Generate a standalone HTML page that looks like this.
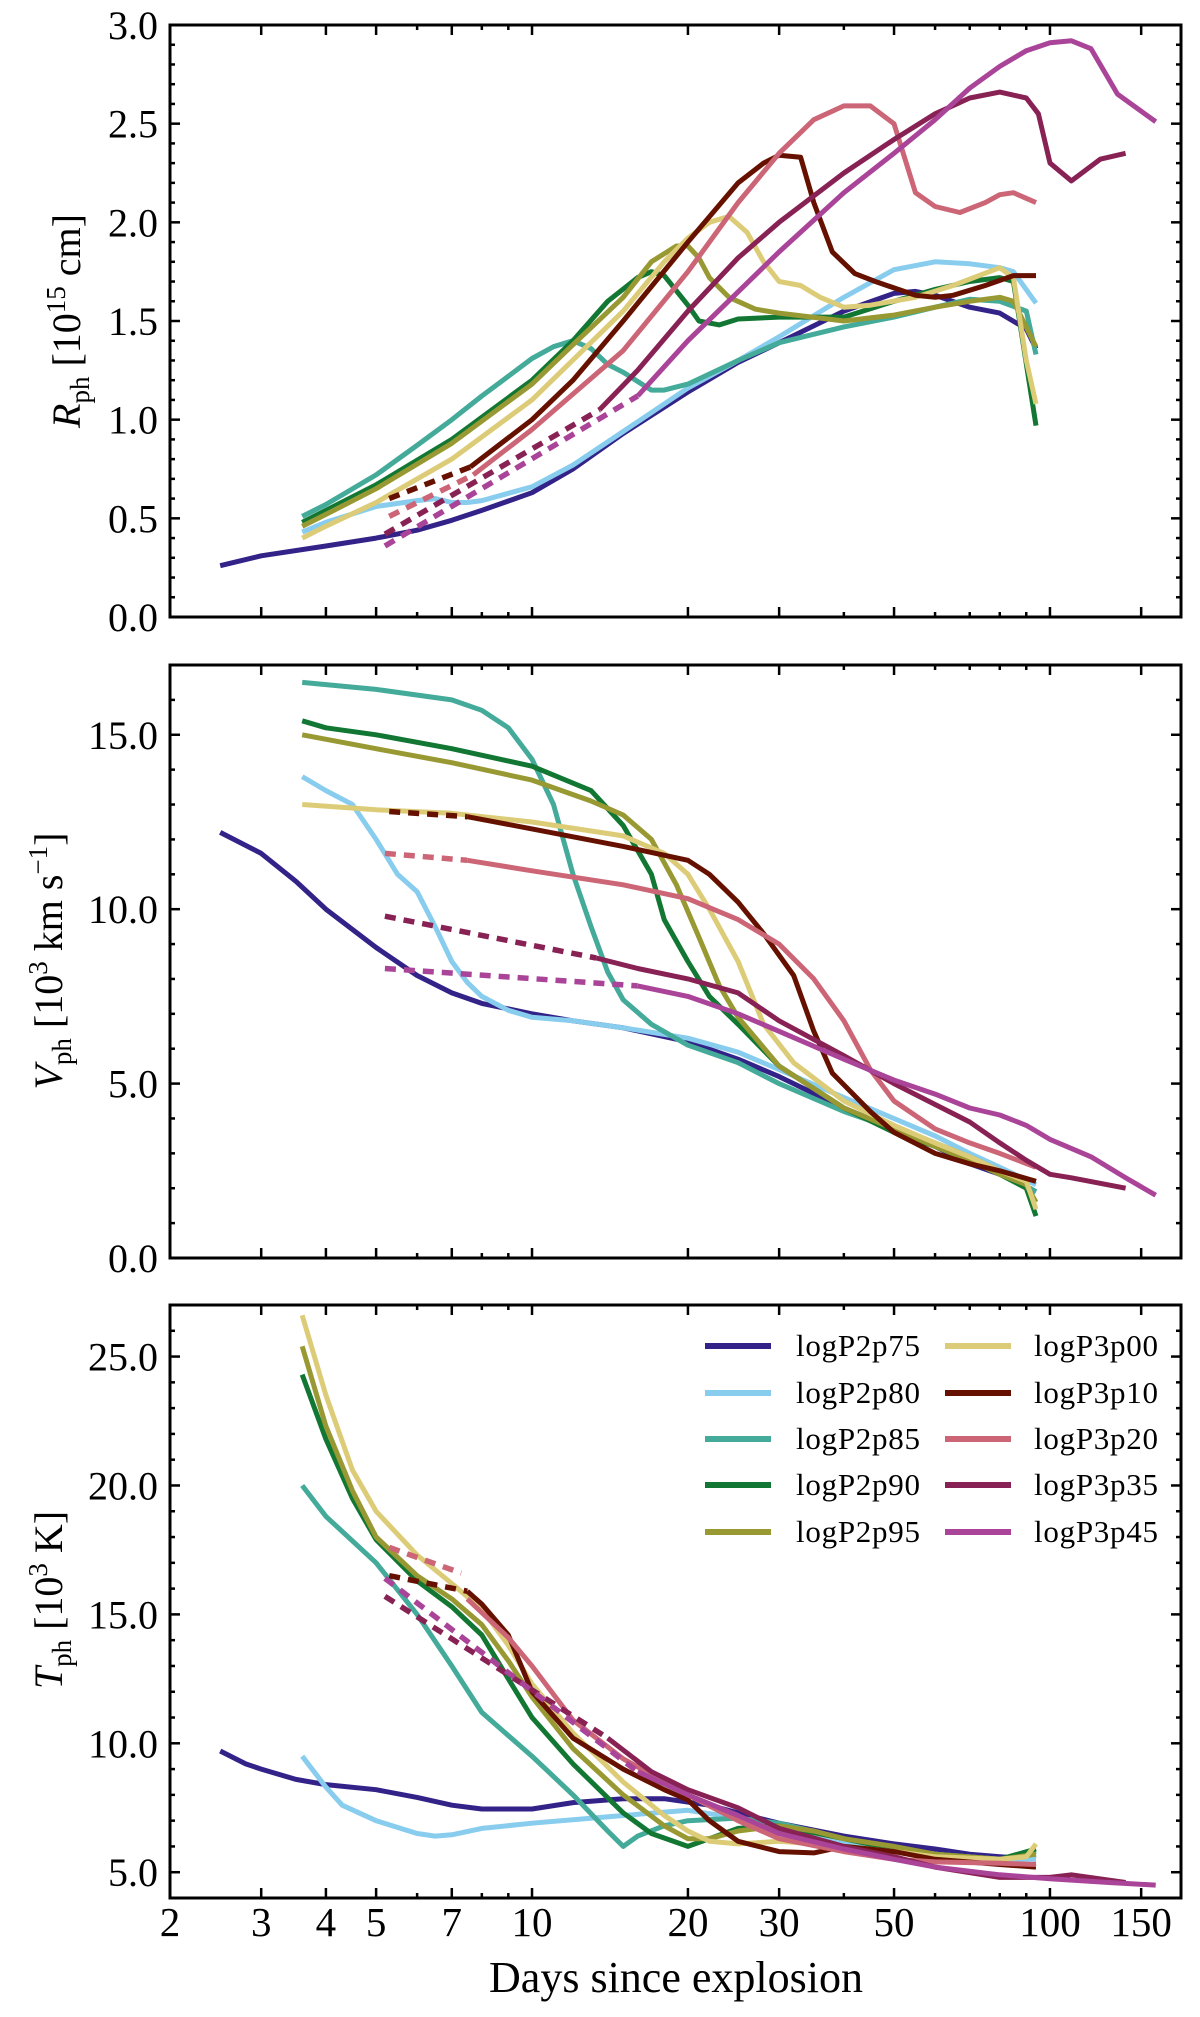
<!DOCTYPE html>
<html><head><meta charset="utf-8">
<style>
html,body{margin:0;padding:0;background:#fff;}
svg{display:block;}
text{font-family:"Liberation Serif",serif;fill:#000;}
</style></head>
<body>
<svg id="chart" xmlns="http://www.w3.org/2000/svg" width="1200" height="2017" viewBox="0 0 1200 2017"></svg>
<script>
// ---- data (days, value) ----
const seriesNames = ["logP2p75","logP2p80","logP2p85","logP2p90","logP2p95","logP3p00","logP3p10","logP3p20","logP3p35","logP3p45"];
const xTickValues = [2,3,4,5,7,10,20,30,50,100,150];
const xTickLabels = ["2","3","4","5","7","10","20","30","50","100","150"];
const rTickLabels = ["0.0","0.5","1.0","1.5","2.0","2.5","3.0"];
const vTickLabels = ["0.0","5.0","10.0","15.0"];
const tTickLabels = ["5.0","10.0","15.0","20.0","25.0"];

// Radius panel [1e15 cm]
const R_P2p75 = [[2.5,0.26],[3,0.31],[4,0.36],[5,0.40],[6,0.44],[7,0.49],[8,0.54],[10,0.63],[12,0.75],[15,0.93],[20,1.14],[25,1.29],[30,1.39],[40,1.55],[50,1.64],[55,1.65],[60,1.63],[70,1.57],[80,1.54],[90,1.46],[94,1.36]];
const R_P2p80 = [[3.6,0.43],[4,0.48],[5,0.56],[6,0.59],[6.5,0.60],[7,0.58],[7.5,0.58],[8,0.59],[10,0.66],[12,0.77],[15,0.94],[20,1.16],[25,1.30],[30,1.42],[40,1.62],[50,1.76],[60,1.80],[70,1.79],[80,1.77],[85,1.75],[94,1.59]];
const R_P2p85 = [[3.6,0.51],[4,0.57],[5,0.72],[6,0.87],[7,1.0],[8,1.12],[9,1.22],[10,1.31],[11,1.37],[12,1.40],[13,1.36],[14,1.28],[15,1.24],[17,1.15],[18,1.15],[20,1.18],[25,1.30],[30,1.39],[40,1.47],[50,1.52],[60,1.57],[70,1.61],[80,1.60],[90,1.55],[94,1.33]];
const R_P2p90 = [[3.6,0.48],[4,0.54],[5,0.67],[7,0.90],[10,1.20],[12,1.40],[14,1.60],[16,1.72],[17,1.75],[18,1.73],[20,1.58],[21,1.50],[23,1.48],[25,1.51],[30,1.52],[40,1.52],[50,1.60],[60,1.66],[70,1.70],[80,1.72],[85,1.70],[94,0.97]];
const R_P2p95 = [[3.6,0.46],[4,0.52],[5,0.65],[7,0.88],[10,1.18],[12,1.38],[15,1.62],[17,1.80],[19,1.88],[20,1.88],[21,1.82],[22,1.72],[24,1.62],[27,1.56],[30,1.54],[40,1.50],[50,1.53],[60,1.57],[70,1.60],[80,1.62],[85,1.60],[94,1.37]];
const R_P3p00 = [[3.6,0.40],[4,0.46],[5,0.58],[7,0.80],[10,1.10],[15,1.55],[18,1.80],[20,1.92],[22,2.00],[24,2.03],[26,1.95],[28,1.80],[30,1.70],[33,1.68],[36,1.62],[40,1.57],[45,1.58],[55,1.62],[65,1.68],[80,1.77],[85,1.72],[90,1.30],[94,1.08]];
const R_P3p10_dash = [[5.3,0.60],[7.6,0.76]];
const R_P3p10 = [[7.6,0.76],[10,1.0],[12,1.2],[15,1.5],[20,1.9],[25,2.2],[28,2.3],[30,2.34],[33,2.33],[35,2.1],[38,1.85],[42,1.74],[46,1.70],[55,1.63],[60,1.62],[65,1.63],[75,1.68],[85,1.73],[94,1.73]];
const R_P3p20_dash = [[5.3,0.51],[7.7,0.72]];
const R_P3p20 = [[7.7,0.72],[10,0.95],[15,1.35],[20,1.75],[25,2.1],[30,2.35],[35,2.52],[40,2.59],[45,2.59],[50,2.5],[55,2.15],[60,2.08],[67,2.05],[75,2.1],[80,2.14],[85,2.15],[94,2.10]];
const R_P3p35_dash = [[5.2,0.42],[13.5,1.05]];
const R_P3p35 = [[13.5,1.05],[16,1.25],[20,1.55],[25,1.82],[30,2.0],[40,2.25],[50,2.42],[60,2.55],[70,2.63],[80,2.66],[90,2.63],[95,2.55],[100,2.3],[110,2.21],[125,2.32],[140,2.35]];
const R_P3p45_dash = [[5.2,0.36],[16,1.12]];
const R_P3p45 = [[16,1.12],[20,1.40],[30,1.85],[40,2.15],[50,2.35],[60,2.52],[70,2.68],[80,2.79],[90,2.87],[100,2.91],[110,2.92],[120,2.88],[135,2.65],[160,2.51]];

// Velocity panel [1e3 km/s]
const V_P2p75 = [[2.5,12.2],[3,11.6],[3.5,10.8],[4,10.0],[5,8.9],[6,8.1],[7,7.6],[8,7.3],[10,7.0],[12,6.8],[15,6.6],[20,6.2],[25,5.7],[30,5.2],[40,4.3],[50,3.7],[60,3.2],[70,2.7],[80,2.4],[94,1.9]];
const V_P2p80 = [[3.6,13.8],[4,13.4],[4.5,13.0],[5,12.0],[5.5,11.0],[6,10.5],[6.5,9.5],[7,8.5],[7.5,7.9],[8,7.5],[9,7.1],[10,6.9],[12,6.8],[15,6.6],[20,6.3],[25,5.9],[30,5.4],[40,4.6],[50,4.0],[60,3.5],[70,3.0],[80,2.6],[94,2.1]];
const V_P2p85 = [[3.6,16.5],[5,16.3],[7,16.0],[8,15.7],[9,15.2],[10,14.3],[11,13.0],[12,11.0],[13,9.5],[14,8.2],[15,7.4],[17,6.7],[20,6.1],[25,5.6],[30,5.0],[40,4.2],[50,3.7],[60,3.3],[70,2.9],[80,2.5],[94,1.9]];
const V_P2p90 = [[3.6,15.4],[4,15.2],[5,15.0],[7,14.6],[10,14.1],[13,13.4],[15,12.4],[17,11.0],[18,9.7],[20,8.5],[22,7.5],[25,6.7],[30,5.5],[40,4.3],[50,3.6],[60,3.2],[70,2.8],[80,2.4],[90,2.0],[94,1.2]];
const V_P2p95 = [[3.6,15.0],[5,14.6],[7,14.2],[10,13.7],[13,13.1],[15,12.7],[17,12.0],[19,10.7],[21,9.2],[23,7.8],[25,6.9],[30,5.5],[40,4.3],[50,3.7],[60,3.2],[70,2.8],[80,2.4],[90,2.1],[94,1.6]];
const V_P3p00 = [[3.6,13.0],[5,12.85],[7,12.75],[10,12.5],[15,12.1],[18,11.6],[20,11.0],[22,10.0],[25,8.5],[28,6.7],[32,5.6],[40,4.5],[50,3.8],[60,3.3],[70,2.9],[80,2.5],[90,2.2],[94,1.4]];
const V_P3p10_dash = [[5.3,12.8],[7.5,12.65]];
const V_P3p10 = [[7.5,12.65],[10,12.3],[15,11.8],[20,11.4],[22,11.0],[25,10.2],[28,9.3],[32,8.1],[35,6.5],[38,5.3],[45,4.2],[50,3.6],[60,3.0],[70,2.7],[80,2.5],[94,2.2]];
const V_P3p20_dash = [[5.2,11.6],[7.5,11.4]];
const V_P3p20 = [[7.5,11.4],[10,11.1],[15,10.7],[20,10.3],[25,9.7],[30,9.0],[35,8.0],[40,6.8],[45,5.4],[50,4.5],[60,3.7],[70,3.3],[80,3.0],[94,2.6]];
const V_P3p35_dash = [[5.2,9.8],[13.3,8.6]];
const V_P3p35 = [[13.3,8.6],[16,8.3],[20,8.0],[25,7.6],[30,6.8],[40,5.8],[50,5.0],[60,4.4],[70,3.9],[80,3.3],[90,2.8],[100,2.4],[110,2.3],[140,2.0]];
const V_P3p45_dash = [[5.2,8.3],[16,7.8]];
const V_P3p45 = [[16,7.8],[20,7.5],[25,7.0],[30,6.5],[40,5.7],[50,5.1],[60,4.7],[70,4.3],[80,4.1],[90,3.8],[100,3.4],[120,2.9],[140,2.3],[160,1.8]];

// Temperature panel [1e3 K]
const T_P2p75 = [[2.5,9.7],[2.8,9.2],[3,9.0],[3.5,8.6],[4,8.4],[5,8.2],[6,7.9],[7,7.6],[8,7.45],[10,7.45],[12,7.7],[15,7.85],[18,7.85],[22,7.6],[25,7.3],[30,6.9],[40,6.4],[50,6.1],[60,5.9],[70,5.7],[80,5.6],[94,5.5]];
const T_P2p80 = [[3.6,9.5],[4,8.3],[4.3,7.6],[5,7.0],[6,6.5],[6.5,6.4],[7,6.45],[8,6.7],[10,6.9],[15,7.2],[20,7.4],[25,7.1],[30,6.6],[40,6.1],[50,5.9],[60,5.7],[80,5.5],[94,5.5]];
const T_P2p85 = [[3.6,20.0],[4,18.8],[5,17.0],[6,15.0],[7,13.0],[8,11.2],[10,9.5],[12,8.0],[14,6.6],[15,6.0],[16,6.4],[18,6.8],[20,7.0],[25,7.1],[30,6.9],[40,6.3],[50,5.9],[60,5.7],[80,5.5],[94,5.8]];
const T_P2p90 = [[3.6,24.3],[4,21.8],[4.5,19.5],[5,17.9],[6,16.3],[7,15.3],[8,14.2],[9,12.5],[10,11.0],[12,9.2],[15,7.3],[17,6.5],[20,6.0],[22,6.3],[25,6.7],[30,6.8],[40,6.3],[50,5.9],[60,5.7],[80,5.5],[94,5.9]];
const T_P2p95 = [[3.6,25.4],[4,22.3],[4.5,19.8],[5,18.0],[6,16.5],[7,15.6],[8,14.6],[9,13.2],[10,11.8],[12,9.8],[15,8.0],[18,6.8],[20,6.3],[22,6.3],[25,6.6],[30,6.8],[35,6.6],[40,6.3],[50,6.0],[60,5.7],[80,5.5],[94,5.7]];
const T_P3p00 = [[3.6,26.6],[4,23.5],[4.5,20.6],[5,19.0],[6,17.3],[7,16.2],[8,15.2],[9,13.8],[10,12.3],[12,10.4],[15,8.5],[18,7.2],[20,6.6],[22,6.2],[25,6.1],[30,6.2],[35,6.1],[40,6.0],[50,5.8],[60,5.6],[80,5.5],[90,5.6],[94,6.1]];
const T_P3p10_dash = [[5.3,16.5],[7.5,15.9]];
const T_P3p10 = [[7.5,15.9],[8,15.4],[9,14.2],[10,12.0],[12,10.2],[15,9.0],[18,8.2],[20,7.8],[22,7.0],[25,6.2],[30,5.8],[35,5.75],[40,6.0],[50,5.8],[60,5.5],[80,5.3],[94,5.2]];
const T_P3p20_dash = [[5.3,17.6],[7.3,16.6]];
const T_P3p20 = [[7.5,15.6],[9,14.1],[10,13.0],[12,10.9],[15,9.4],[20,8.0],[25,7.0],[30,6.3],[40,5.8],[50,5.5],[60,5.4],[80,5.35],[94,5.3]];
const T_P3p35_dash = [[5.2,15.7],[14,10.2]];
const T_P3p35 = [[14,10.2],[17,8.9],[20,8.2],[25,7.5],[30,6.7],[40,6.0],[50,5.6],[60,5.2],[80,4.8],[100,4.8],[110,4.9],[140,4.6]];
const T_P3p45_dash = [[5.2,16.4],[16,8.9]];
const T_P3p45 = [[16,8.9],[20,8.0],[25,7.2],[30,6.5],[40,5.9],[50,5.5],[60,5.2],[80,4.9],[100,4.75],[130,4.6],[160,4.5]];

// ---- styling / layout ----
const colors = ["#332288","#88ccee","#44aa99","#117733","#999933","#ddcc77","#661100","#cc6677","#882255","#aa4499"];
const XL = 170, XR = 1181;
const LOGMIN = Math.log10(2), LOGMAX = 2.253;
function xScale(d){ return XL + (Math.log10(d)-LOGMIN)/(LOGMAX-LOGMIN)*(XR-XL); }
const panels = [
  {key:"radius", top:25, bottom:617, vmin:0, vmax:3, major:0.5, minor:0.1, ticks:rTickLabels,
   series:[R_P2p75,R_P2p80,R_P2p85,R_P2p90,R_P2p95,R_P3p00,R_P3p10,R_P3p20,R_P3p35,R_P3p45],
   dashes:[null,null,null,null,null,null,R_P3p10_dash,R_P3p20_dash,R_P3p35_dash,R_P3p45_dash]},
  {key:"velocity", top:665, bottom:1258, vmin:0, vmax:17, major:5, minor:1, ticks:vTickLabels,
   series:[V_P2p75,V_P2p80,V_P2p85,V_P2p90,V_P2p95,V_P3p00,V_P3p10,V_P3p20,V_P3p35,V_P3p45],
   dashes:[null,null,null,null,null,null,V_P3p10_dash,V_P3p20_dash,V_P3p35_dash,V_P3p45_dash]},
  {key:"temperature", top:1305, bottom:1898, vmin:4, vmax:27, major:5, minor:1, ticks:tTickLabels, firstMajor:5,
   series:[T_P2p75,T_P2p80,T_P2p85,T_P2p90,T_P2p95,T_P3p00,T_P3p10,T_P3p20,T_P3p35,T_P3p45],
   dashes:[null,null,null,null,null,null,T_P3p10_dash,T_P3p20_dash,T_P3p35_dash,T_P3p45_dash]}
];
const NS = "http://www.w3.org/2000/svg";
const svg = document.getElementById("chart");
function mk(tag, attrs, parent){
  const e = document.createElementNS(NS, tag);
  for (const k in attrs) e.setAttribute(k, attrs[k]);
  (parent||svg).appendChild(e);
  return e;
}
function yScaleFor(p){ return v => p.bottom - (v-p.vmin)/(p.vmax-p.vmin)*(p.bottom-p.top); }
function pts(arr, ys){ return arr.map(a => xScale(a[0]).toFixed(1)+","+ys(a[1]).toFixed(1)).join(" "); }

panels.forEach((p, pi) => {
  const g = mk("g", {});
  
  
  const ys = yScaleFor(p);
  const lg = mk("g", {}, g);
  
  
  p.series.forEach((s, i) => {
    if (p.dashes[i]) {
      const d = mk("polyline", {points: pts(p.dashes[i], ys), fill:"none", stroke: colors[i], "stroke-width":5.5, "stroke-dasharray":"11,8"}, lg);
      
      
    }
    const l = mk("polyline", {points: pts(s, ys), fill:"none", stroke: colors[i], "stroke-width":5, "stroke-linejoin":"round"}, lg);
    
    
  });
  const first = p.firstMajor !== undefined ? p.firstMajor : p.vmin;
  for (let v = p.vmin; v <= p.vmax + 1e-6; v += p.minor) {
    const vv = Math.round(v*1000)/1000;
    const isMajor = Math.abs(((vv - first)/p.major) - Math.round((vv - first)/p.major)) < 1e-6 && vv >= first;
    const len = isMajor ? 10 : 5;
    const y = ys(vv);
    mk("line", {x1:XL, x2:XL+len, y1:y, y2:y, stroke:"#000", "stroke-width":2.5}, g);
    mk("line", {x1:XR, x2:XR-len, y1:y, y2:y, stroke:"#000", "stroke-width":2.5}, g);
  }
  p.ticks.forEach(lbl => {
    const t = mk("text", {x:158, y: ys(parseFloat(lbl)) + 14, "text-anchor":"end", "font-size":40}, g);
    t.textContent = lbl;
    
    
  });
  const minorDays = [3,4,5,6,7,8,9,10,20,30,40,50,60,70,80,90,100,150];
  minorDays.forEach(d => {
    const len = xTickValues.indexOf(d) >= 0 ? 10 : 5;
    const x = xScale(d);
    mk("line", {x1:x, x2:x, y1:p.bottom, y2:p.bottom-len, stroke:"#000", "stroke-width":2.5}, g);
    mk("line", {x1:x, x2:x, y1:p.top, y2:p.top+len, stroke:"#000", "stroke-width":2.5}, g);
  });
  const fr = mk("rect", {x:XL, y:p.top, width:XR-XL, height:p.bottom-p.top, fill:"none", stroke:"#000", "stroke-width":3}, g);
  
  
});

xTickLabels.forEach((lbl, i) => {
  const t = mk("text", {x: xScale(xTickValues[i]), y: 1936, "text-anchor":"middle", "font-size":41});
  t.textContent = lbl;
  
  
});
</script>
<svg style="position:absolute;left:0;top:0" width="1200" height="2017" viewBox="0 0 1200 2017" xmlns="http://www.w3.org/2000/svg">
  <text x="676" y="1992" text-anchor="middle" font-size="44" style="font-family:'Liberation Serif',serif">Days since explosion</text>
  <text transform="translate(80,321) rotate(-90)" text-anchor="middle" font-size="40" style="font-family:'Liberation Serif',serif"><tspan font-style="italic">R</tspan><tspan font-size="27" dy="9">ph</tspan><tspan dy="-9"> [10</tspan><tspan font-size="27" dy="-15">15</tspan><tspan dy="15"> cm]</tspan></text>
  <text transform="translate(62,961) rotate(-90)" text-anchor="middle" font-size="40" style="font-family:'Liberation Serif',serif"><tspan font-style="italic">V</tspan><tspan font-size="27" dy="9">ph</tspan><tspan dy="-9"> [10</tspan><tspan font-size="27" dy="-15">3</tspan><tspan dy="15"> km s</tspan><tspan font-size="27" dy="-15">−1</tspan><tspan dy="15">]</tspan></text>
  <text transform="translate(62,1600) rotate(-90)" text-anchor="middle" font-size="40" style="font-family:'Liberation Serif',serif"><tspan font-style="italic">T</tspan><tspan font-size="27" dy="9">ph</tspan><tspan dy="-9"> [10</tspan><tspan font-size="27" dy="-15">3</tspan><tspan dy="15"> K]</tspan></text>
  <g font-size="31" style="font-family:'Liberation Serif',serif">
    <line x1="705" x2="771" y1="1346" y2="1346" stroke="#332288" stroke-width="6"/><text x="796" y="1356" textLength="124">logP2p75</text>
    <line x1="705" x2="771" y1="1393" y2="1393" stroke="#88ccee" stroke-width="6"/><text x="796" y="1403" textLength="124">logP2p80</text>
    <line x1="705" x2="771" y1="1439" y2="1439" stroke="#44aa99" stroke-width="6"/><text x="796" y="1449" textLength="124">logP2p85</text>
    <line x1="705" x2="771" y1="1485" y2="1485" stroke="#117733" stroke-width="6"/><text x="796" y="1495" textLength="124">logP2p90</text>
    <line x1="705" x2="771" y1="1532" y2="1532" stroke="#999933" stroke-width="6"/><text x="796" y="1542" textLength="124">logP2p95</text>
    <line x1="945" x2="1011" y1="1346" y2="1346" stroke="#ddcc77" stroke-width="6"/><text x="1034" y="1356" textLength="124">logP3p00</text>
    <line x1="945" x2="1011" y1="1393" y2="1393" stroke="#661100" stroke-width="6"/><text x="1034" y="1403" textLength="124">logP3p10</text>
    <line x1="945" x2="1011" y1="1439" y2="1439" stroke="#cc6677" stroke-width="6"/><text x="1034" y="1449" textLength="124">logP3p20</text>
    <line x1="945" x2="1011" y1="1485" y2="1485" stroke="#882255" stroke-width="6"/><text x="1034" y="1495" textLength="124">logP3p35</text>
    <line x1="945" x2="1011" y1="1532" y2="1532" stroke="#aa4499" stroke-width="6"/><text x="1034" y="1542" textLength="124">logP3p45</text>
  </g>
</svg>
</body></html>
